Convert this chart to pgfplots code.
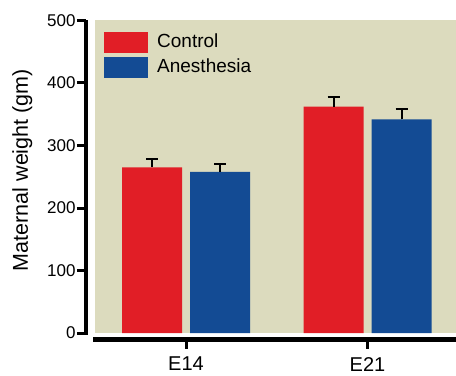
\documentclass[border=0pt]{standalone}
\usepackage{pgfplots}
\pgfplotsset{compat=1.18}
\usepackage{fontspec}
\setmainfont{Liberation Sans}
\definecolor{cred}{RGB}{225,30,38}
\definecolor{cblue}{RGB}{19,75,148}
\definecolor{cbg}{RGB}{220,219,190}
\begin{document}
\begin{tikzpicture}
\begin{axis}[
  name=ax,
  scale only axis, width=370pt, height=319pt,
  xmin=-0.551, xmax=1.4876, ymin=-10.4, ymax=500,
  axis lines=left,
  axis line style={-, line width=4.5pt, black},
  y axis line style={shorten <=5pt},
  x axis line style={shorten <=7pt},
  xtick={0,1}, xticklabels={E14,E21},
  ytick={0,100,200,300,400,500},
  tick align=outside, major tick length=9pt,
  tick style={line width=3pt, black},
  /pgf/number format/assume math mode=true,
  yticklabel style={font=\fontsize{17}{17}\selectfont, xshift=2pt},
  xticklabel style={font=\fontsize{20}{20}\selectfont, yshift=-5pt},
  ylabel={Maternal weight (gm)},
  ylabel style={font=\fontsize{21.5}{21.5}\selectfont, at={(axis description cs:-0.172,0.531)}, anchor=center},
  ybar=8pt, bar width=60pt,
  legend style={at={(axis description cs:0.0486,0.964)}, anchor=north west, draw=none, fill=none,
    inner sep=0pt, row sep=4pt, font=\fontsize{19}{19}\selectfont,
    nodes={inner sep=0pt, text height=14pt, text depth=4pt},
    /tikz/every odd column/.append style={column sep=9pt}},
  legend cell align=left,
  legend image code/.code={\fill[#1] (0pt,-10.5pt) rectangle (44pt,10.5pt);},
]
\fill[cbg] (axis cs:-0.501,0) rectangle (axis cs:1.4876,500);
\addplot[fill=cred, draw=none,
  error bars/.cd, y dir=plus, y explicit,
  error bar style={line width=2pt, black},
  error mark options={rotate=90, mark size=6pt, line width=2pt, black}]
  coordinates {(0,265) +- (0,14) (1,362) +- (0,16)};
\addplot[fill=cblue, draw=none,
  error bars/.cd, y dir=plus, y explicit,
  error bar style={line width=2pt, black},
  error mark options={rotate=90, mark size=6pt, line width=2pt, black}]
  coordinates {(0,258) +- (0,12) (1,342) +- (0,16)};
\legend{Control, Anesthesia}
\end{axis}
\pgfresetboundingbox
\useasboundingbox ([xshift=-86pt,yshift=-35.5pt]ax.south west) rectangle ([yshift=20.5pt]ax.north east);
\end{tikzpicture}
\end{document}
